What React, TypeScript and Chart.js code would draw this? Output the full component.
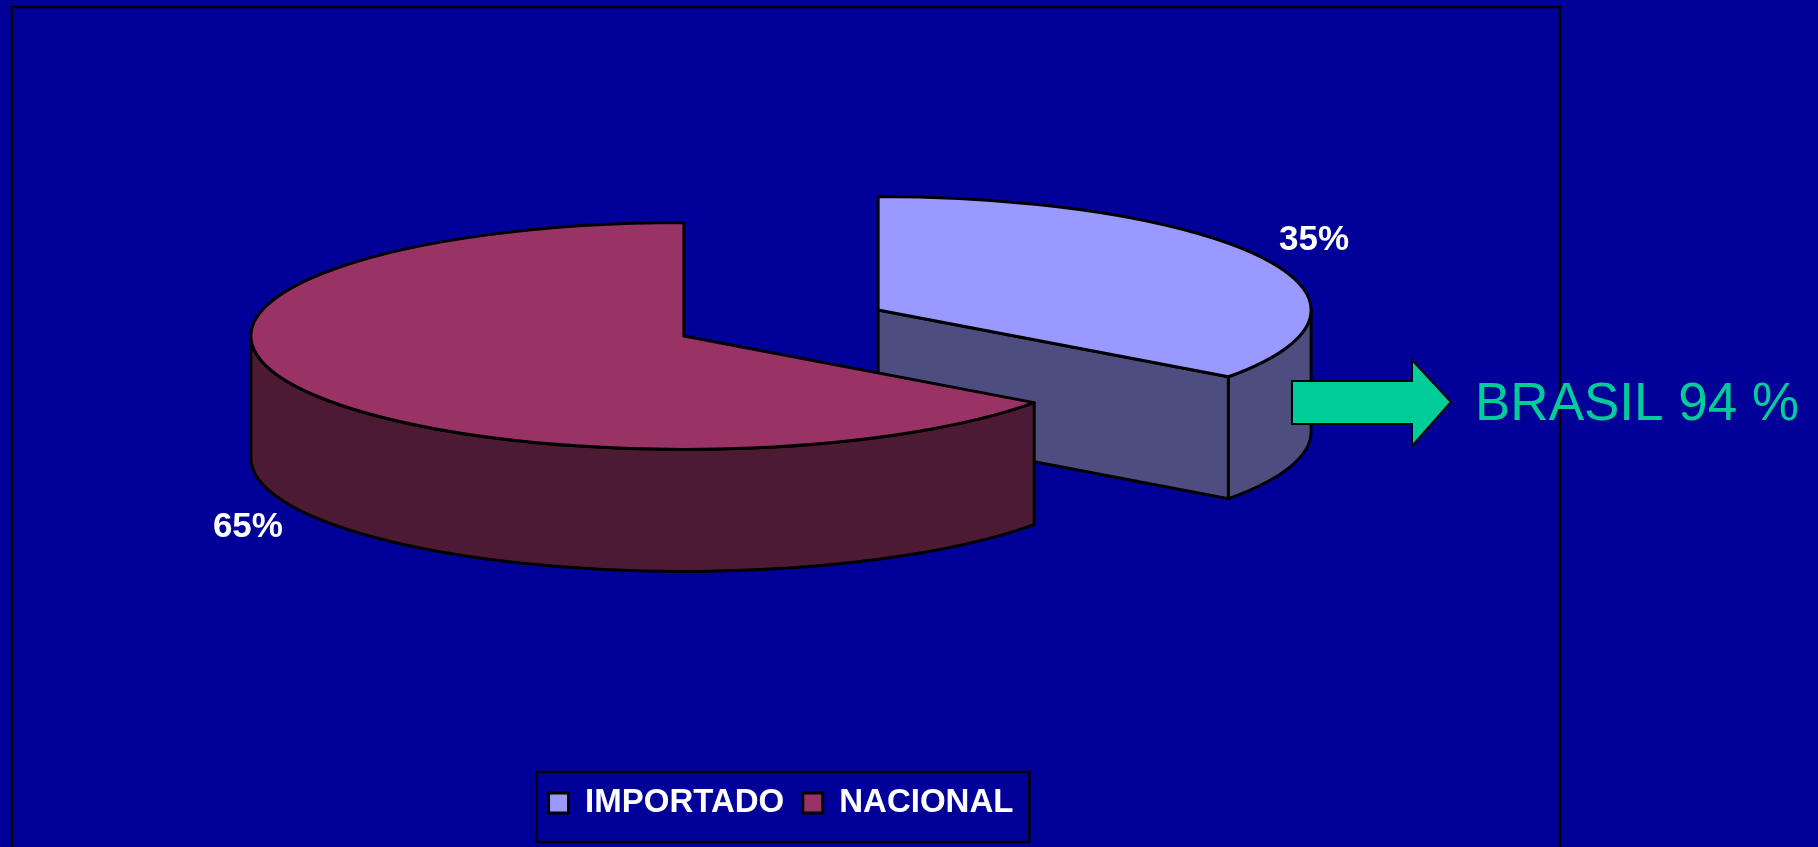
import React, { useEffect, useRef } from 'react';
import { Chart, registerables } from 'chart.js';

Chart.register(...registerables);

// ---- data ----
const categories = ['IMPORTADO', 'NACIONAL'];
const shares = [35, 65];
const topColors = ['#9999FF', '#993366'];
const sideColors = ['#4D4D80', '#4D1A33'];
const calloutText = 'BRASIL 94 %';

// ---- styles ----
const FONT = 'Arial, "Liberation Sans", Helvetica, sans-serif';
const BG = '#000099';
const CALLOUT_COLOR = '#00CC99';
const TILT = 0.262; // vertical squash of the pie
const DEPTH = 122; // extrusion height
const EXPLODE = 109; // slice explode distance
const FRAME = { left: 12, right: 1560, top: 7 };

export default function App() {
  const ref = useRef<HTMLCanvasElement>(null);

  useEffect(() => {
    const pie3d = {
      id: 'pie3d',
      beforeDatasetsDraw(chart: any) {
        const ctx: CanvasRenderingContext2D = chart.ctx;
        // plot frame
        ctx.save();
        ctx.strokeStyle = '#000';
        ctx.lineWidth = 2.5;
        ctx.strokeRect(FRAME.left, FRAME.top, FRAME.right - FRAME.left, 900);
        ctx.restore();

        const meta = chart.getDatasetMeta(0);
        const arcs = meta.data as any[];
        const values = chart.data.datasets[0].data as number[];
        const total = values.reduce((s, v) => s + v, 0);

        const slices = arcs.map((arc: any, i: number) => {
          const s = arc.startAngle;
          const e = arc.endAngle;
          const mid = (s + e) / 2;
          const R = arc.outerRadius;
          const ry = R * TILT;
          const off = arc.options.offset || 0;
          const cx = arc.x + Math.cos(mid) * off;
          const cy = arc.y - DEPTH / 2 + Math.sin(mid) * off * TILT;
          return { i, s, e, mid, R, ry, cx, cy };
        });
        const order = [...slices].sort((a, b) => a.cy - b.cy);

        ctx.save();
        ctx.lineWidth = 3;
        ctx.lineJoin = 'round';
        ctx.strokeStyle = '#000';
        for (const sl of order) {
          const { i, s, e, R, ry, cx, cy } = sl;
          const px = (t: number) => cx + R * Math.cos(t);
          const py = (t: number) => cy + ry * Math.sin(t);
          ctx.fillStyle = sideColors[i];
          // radial cut faces
          const faces: number[] = [];
          if (Math.cos(s) < -1e-6) faces.push(s);
          if (Math.cos(e) > 1e-6) faces.push(e);
          for (const p of faces) {
            ctx.beginPath();
            ctx.moveTo(cx, cy);
            ctx.lineTo(px(p), py(p));
            ctx.lineTo(px(p), py(p) + DEPTH);
            ctx.lineTo(cx, cy + DEPTH);
            ctx.closePath();
            ctx.fill();
            ctx.stroke();
          }
          // outer wall (front half only)
          for (const k of [-1, 0, 1]) {
            const a = Math.max(s, k * 2 * Math.PI);
            const b = Math.min(e, k * 2 * Math.PI + Math.PI);
            if (a < b) {
              ctx.beginPath();
              ctx.ellipse(cx, cy, R, ry, 0, a, b, false);
              ctx.lineTo(px(b), py(b) + DEPTH);
              ctx.ellipse(cx, cy + DEPTH, R, ry, 0, b, a, true);
              ctx.closePath();
              ctx.fill();
              ctx.stroke();
            }
          }
          // top face
          ctx.fillStyle = topColors[i];
          ctx.beginPath();
          ctx.moveTo(cx, cy);
          ctx.ellipse(cx, cy, R, ry, 0, s, e, false);
          ctx.closePath();
          ctx.fill();
          ctx.stroke();
        }

        // percentage labels
        ctx.fillStyle = '#FFFFFF';
        ctx.font = `bold 35px ${FONT}`;
        ctx.textAlign = 'center';
        ctx.textBaseline = 'middle';
        for (const sl of slices) {
          const pct = Math.round((values[sl.i] / total) * 100);
          const sn = Math.sin(sl.mid);
          const x = sl.cx + sl.R * 1.13 * Math.cos(sl.mid);
          const y = sl.cy + sl.ry * 1.35 * sn + (sn > 0 ? DEPTH : 0);
          ctx.fillText(`${pct}%`, x, y);
        }
        ctx.restore();
        return false;
      },
      afterDraw(chart: any) {
        const ctx: CanvasRenderingContext2D = chart.ctx;
        const legend = chart.legend;
        ctx.save();
        // legend frame
        const boxes = legend.legendHitBoxes as any[];
        if (boxes && boxes.length) {
          const first = boxes[0];
          const last = boxes[boxes.length - 1];
          const midY = first.top + first.height / 2;
          const x0 = first.left - 12;
          const x1 = last.left + last.width + 16;
          ctx.strokeStyle = '#000';
          ctx.lineWidth = 2.5;
          ctx.strokeRect(x0, midY - 31, x1 - x0, 70);
        }
        // callout arrow
        ctx.beginPath();
        ctx.moveTo(1292, 381);
        ctx.lineTo(1412, 381);
        ctx.lineTo(1412, 360);
        ctx.lineTo(1451, 402);
        ctx.lineTo(1412, 446);
        ctx.lineTo(1412, 424);
        ctx.lineTo(1292, 424);
        ctx.closePath();
        ctx.fillStyle = CALLOUT_COLOR;
        ctx.fill();
        ctx.strokeStyle = '#000';
        ctx.lineWidth = 2;
        ctx.lineJoin = 'miter';
        ctx.stroke();
        // callout text
        ctx.fillStyle = CALLOUT_COLOR;
        ctx.font = `53px ${FONT}`;
        ctx.textAlign = 'left';
        ctx.textBaseline = 'alphabetic';
        ctx.fillText(calloutText, 1475, 419.5);
        ctx.restore();
      },
    };

    const chart = new Chart(ref.current as HTMLCanvasElement, {
      type: 'pie',
      data: {
        labels: categories,
        datasets: [
          {
            data: shares,
            backgroundColor: topColors,
            borderColor: '#000',
            borderWidth: 3,
            offset: EXPLODE,
          } as any,
        ],
      },
      options: {
        animation: false,
        responsive: true,
        maintainAspectRatio: false,
        events: [],
        radius: 433,
        layout: { padding: { left: 12, right: 268, top: 0, bottom: 17.5 } },
        plugins: {
          tooltip: { enabled: false },
          legend: {
            display: true,
            position: 'bottom',
            labels: {
              color: '#FFFFFF',
              font: { family: FONT, size: 33, weight: 'bold' },
              boxWidth: 20,
              boxHeight: 20,
              padding: 18.5,
              generateLabels: () =>
                categories.map((c, i) => ({
                  text: c,
                  fillStyle: topColors[i],
                  strokeStyle: '#000',
                  lineWidth: 3,
                  hidden: false,
                  index: i,
                  fontColor: '#FFFFFF',
                })),
            },
          },
        },
      } as any,
      plugins: [pie3d],
    });
    return () => chart.destroy();
  }, []);

  return (
    <div
      style={{
        position: 'fixed',
        left: 0,
        top: 0,
        width: 1818,
        height: 847,
        background: BG,
      }}
    >
      <canvas ref={ref} />
    </div>
  );
}
